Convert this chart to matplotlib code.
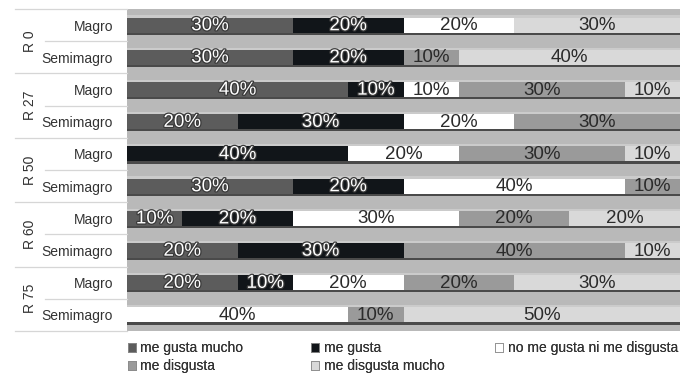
import matplotlib.pyplot as plt
import matplotlib.patheffects as pe
from matplotlib.patches import Patch
import numpy as np

plt.rcParams['font.family'] = ['Liberation Sans', 'DejaVu Sans']

groups = ['R 0', 'R 27', 'R 50', 'R 60', 'R 75']
rows = ['Magro', 'Semimagro'] * 5

series = ['me gusta mucho', 'me gusta', 'no me gusta ni me disgusta',
          'me disgusta', 'me disgusta mucho']
gusta_mucho = [30, 30, 40, 20, 0, 30, 10, 20, 20, 0]
gusta = [20, 20, 10, 30, 40, 20, 20, 30, 10, 0]
ni_ni = [20, 0, 10, 20, 20, 40, 30, 0, 20, 40]
disgusta = [0, 10, 30, 30, 30, 10, 20, 40, 20, 10]
disgusta_mucho = [30, 40, 10, 0, 10, 0, 20, 10, 30, 50]

colors = ['#5c5c5c', '#111519', '#ffffff', '#9a9a9a', '#d9d9d9']
dark_text = [True, True, False, False, False]

values = np.array([gusta_mucho, gusta, ni_ni, disgusta, disgusta_mucho])

W, H = 684, 376
fig = plt.figure(figsize=(W / 100, H / 100), dpi=100)
ax = fig.add_axes([127 / W, 1 - 331 / H, 553 / W, 322 / H])
ax.set_facecolor('#b9b9b9')

y = np.arange(len(rows))
bh = 0.46
left = np.zeros(len(rows))
for k in range(len(series)):
    v = values[k]
    # light rim above and dark shadow below each bar
    ax.barh(y - 0.07, v, left=left, height=bh, color='#cbcbcb', zorder=1)
    ax.barh(y + 0.07, v, left=left, height=bh, color='#4a4a4a', zorder=1)
    ax.barh(y, v, left=left, height=bh, color=colors[k], zorder=2)
    for i in range(len(rows)):
        if v[i] == 0:
            continue
        cx = left[i] + v[i] / 2
        if dark_text[k]:
            ax.text(cx, y[i] + 0.02, f'{v[i]}%', ha='center', va='center',
                    fontsize=13.5, color='white', zorder=3,
                    path_effects=[pe.withStroke(linewidth=1.8, foreground='#3a3a3a')])
        else:
            ax.text(cx, y[i] + 0.02, f'{v[i]}%', ha='center', va='center',
                    fontsize=13.5, color='#2b2b2b', zorder=3)
    left = left + v

ax.set_xlim(0, 100)
ax.set_ylim(len(rows) - 0.5, -0.5)
ax.set_xticks([])
ax.set_yticks(y)
ax.set_yticklabels(rows, fontsize=10, color='#333333')
ax.tick_params(axis='y', length=0, pad=10)
for s in ax.spines.values():
    s.set_visible(False)

# group names and separator lines on the left
for g, name in enumerate(groups):
    ax.text(-0.175, 2 * g + 0.5, name, rotation=90, ha='center', va='center',
            fontsize=10, color='#333333', transform=ax.get_yaxis_transform())
for b in range(len(rows) + 1):
    x0 = -0.2025 if b % 2 == 0 else -0.148
    ax.plot([x0, 0], [b - 0.5, b - 0.5], color='#d6d6d6', lw=0.9,
            transform=ax.get_yaxis_transform(), clip_on=False)

handles = [Patch(facecolor=c, edgecolor='#8a8a8a', lw=0.6) for c in colors]
cols = [[0, 3], [1, 4], [2]]
xs = [128, 311, 495]
for col, x0 in zip(cols, xs):
    leg = fig.legend([handles[i] for i in col], [series[i] for i in col],
                     loc='upper left', bbox_to_anchor=(x0 / W, 1 - 341 / H),
                     frameon=False, fontsize=10, handlelength=0.6,
                     handleheight=0.6, handletextpad=0.3, borderpad=0,
                     borderaxespad=0, labelspacing=0.3, labelcolor='#333333')
    fig.add_artist(leg)

fig.savefig('out.png', dpi=100)
